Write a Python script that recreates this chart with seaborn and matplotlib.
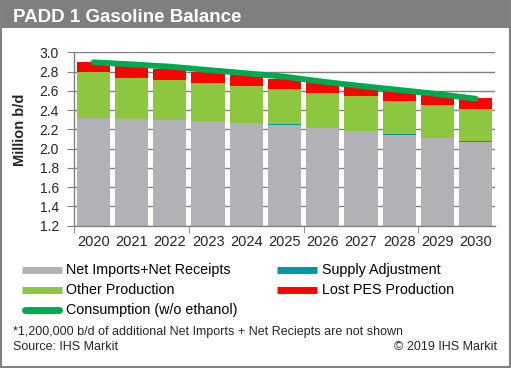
import numpy as np
import pandas as pd
import matplotlib
matplotlib.use("Agg")
import matplotlib.pyplot as plt
from matplotlib.lines import Line2D
from matplotlib.patches import Rectangle
import seaborn as sns

years = ["2020", "2021", "2022", "2023", "2024", "2025", "2026", "2027", "2028", "2029", "2030"]
net_imports = [2.318, 2.308, 2.297, 2.286, 2.266, 2.249, 2.214, 2.183, 2.143, 2.114, 2.072]
supply_adj = [0.0, 0.0, 0.0, 0.0, 0.0, 0.008, 0.0, 0.0, 0.009, 0.0, 0.010]
other_prod = [0.477, 0.425, 0.415, 0.395, 0.384, 0.362, 0.363, 0.363, 0.342, 0.339, 0.329]
lost_pes = [0.104, 0.128, 0.114, 0.114, 0.114, 0.101, 0.112, 0.104, 0.115, 0.114, 0.115]
consumption = [2.896, 2.875, 2.851, 2.816, 2.782, 2.747, 2.695, 2.650, 2.609, 2.567, 2.518]
yticks = [1.2, 1.4, 1.6, 1.8, 2.0, 2.2, 2.4, 2.6, 2.8, 3.0]

C_GRAY = "#b2b2b6"
C_TEAL = "#0097a7"
C_GREEN = "#8dc63f"
C_RED = "#ff0000"
C_LINE = "#00a94f"
C_AXIS = "#808080"

sns.set_style("white")
plt.rcParams["font.family"] = ["Liberation Sans", "DejaVu Sans"]

df = pd.DataFrame({"year": years, "net": net_imports, "adj": supply_adj,
                   "other": other_prod, "lost": lost_pes, "cons": consumption})
df["top_net"] = df["net"]
df["top_adj"] = df["top_net"] + df["adj"]
df["top_other"] = df["top_adj"] + df["other"]
df["top_lost"] = df["top_other"] + df["lost"]

W, H = 511, 368
fig = plt.figure(figsize=(W / 100, H / 100), dpi=100)
fig.patch.set_facecolor("white")

# title bar
fig.add_artist(Rectangle((0, 1 - 28 / H), 1, 28 / H, transform=fig.transFigure,
                         facecolor="#7f7f7f", edgecolor="none", zorder=0))
fig.add_artist(Rectangle((1 / W, 1 / H), 1 - 2 / W, 1 - 2 / H, transform=fig.transFigure,
                         facecolor="none", edgecolor="#808080", linewidth=1.5, zorder=5))
fig.text(13 / W, 1 - 21.5 / H, "PADD 1 Gasoline Balance", color="white",
         fontsize=13.5, fontweight="bold", va="baseline", ha="left")

ax = fig.add_axes([74.3 / W, 1 - 225.7 / H, 420.4 / W, 173.4 / H])
bw = 0.87
for col, colr in [("top_lost", C_RED), ("top_other", C_GREEN), ("top_adj", C_TEAL), ("top_net", C_GRAY)]:
    sns.barplot(data=df, x="year", y=col, color=colr, width=bw, saturation=1,
                edgecolor="none", linewidth=0, ax=ax, zorder=2, errorbar=None)
xpos = np.arange(len(years))
sns.lineplot(x=xpos, y=df["cons"].values, color=C_LINE, linewidth=4.2, ax=ax,
             zorder=4, solid_capstyle="round")

ax.set_xlim(-0.5, len(years) - 0.5)
ax.set_ylim(yticks[0], yticks[-1])
ax.set_yticks(yticks)
ax.set_yticklabels([f"{v:.1f}" for v in yticks])
ax.yaxis.grid(True, color=C_AXIS, linewidth=1.0, zorder=0)
ax.set_axisbelow(True)
for s in ["top", "right"]:
    ax.spines[s].set_visible(False)
for s in ["left", "bottom"]:
    ax.spines[s].set_color(C_AXIS)
    ax.spines[s].set_linewidth(1.0)
ax.set_xlabel("")
ax.set_ylabel("Million b/d", fontsize=10.5, fontweight="bold")
ax.yaxis.set_label_coords(-(74.3 - 27) / 420.4, (225.7 - 130) / 173.4)
ax.tick_params(axis="y", which="both", direction="out", length=5, color=C_AXIS,
               labelsize=10, pad=6, left=True)
ax.set_xticks(xpos)
ax.set_xticklabels(years)
ax.tick_params(axis="x", which="major", length=0, labelsize=10.5, pad=7)
ax.set_xticks([-0.5, 2.5, 5.5, 8.5], minor=True)
ax.tick_params(axis="x", which="minor", direction="out", length=5, color=C_AXIS, bottom=True)

# legend (manual layout)
leg_items = [
    (22, 270, "Net Imports+Net Receipts", C_GRAY, "butt"),
    (277, 270, "Supply Adjustment", C_TEAL, "butt"),
    (22, 290, "Other Production", C_GREEN, "butt"),
    (277, 290, "Lost PES Production", C_RED, "butt"),
    (22, 310, "Consumption (w/o ethanol)", C_LINE, "round"),
]
for x0, y0, lab, colr, cap in leg_items:
    fy = 1 - y0 / H
    if cap == "round":
        xs = [(x0 + 3) / W, (x0 + 40 - 3) / W]
    else:
        xs = [x0 / W, (x0 + 40) / W]
    fig.add_artist(Line2D(xs, [fy, fy], transform=fig.transFigure, color=colr,
                          linewidth=5, solid_capstyle=cap))
    fig.text((x0 + 44.5) / W, fy, lab, fontsize=10.3, va="center", ha="left", color="black")

fig.text(12.7 / W, 1 - 331.5 / H, "*1,200,000 b/d of additional Net Imports + Net Reciepts are not shown",
         fontsize=9, va="center", ha="left")
fig.text(12.7 / W, 1 - 346.5 / H, "Source: IHS Markit", fontsize=9, va="center", ha="left")
fig.text(497 / W, 1 - 346.5 / H, "\u00a9 2019 IHS Markit", fontsize=9, va="center", ha="right")

fig.savefig("out.png", dpi=100, facecolor="white")
